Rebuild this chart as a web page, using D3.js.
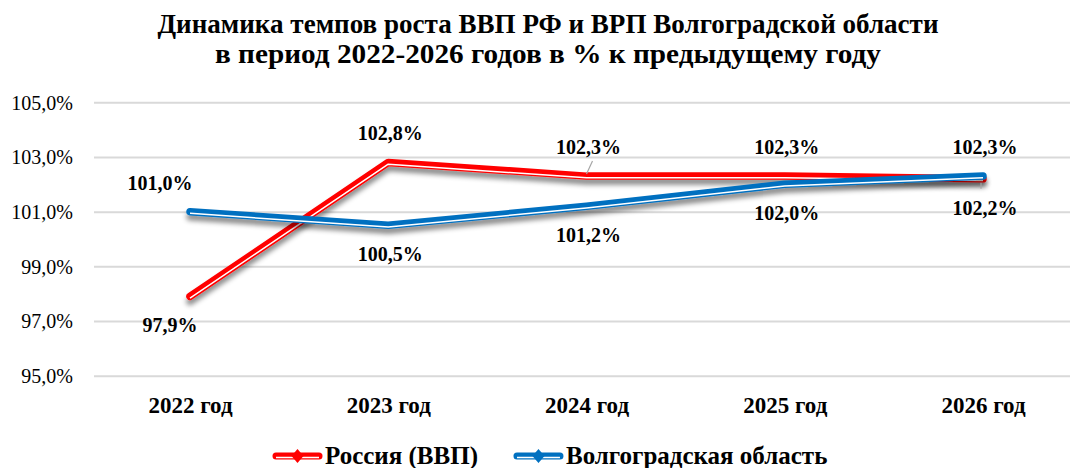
<!DOCTYPE html>
<html>
<head>
<meta charset="utf-8">
<script src="https://cdn.jsdelivr.net/npm/d3@7"></script>
<style>
  html, body { margin: 0; padding: 0; background: #fff; }
  svg { display: block; }
</style>
</head>
<body>
<svg id="chart" width="1070" height="468"></svg>
<script>
const categories = ["2022 год", "2023 год", "2024 год", "2025 год", "2026 год"];
const russia = [97.9, 102.8, 102.3, 102.3, 102.2];
const volgograd = [101.0, 100.5, 101.2, 102.0, 102.3];
const yTicks = [95, 97, 99, 101, 103, 105];
const seriesNames = ["Россия (ВВП)", "Волгоградская область"];
const titleLines = ["Динамика темпов роста ВВП РФ и ВРП Волгоградской области",
                    "в период 2022-2026 годов в % к предыдущему году"];
const leaderCats = ["2024 год", "2026 год"];

const series = [
  {name: seriesNames[0], values: russia, color: "#FF0000"},
  {name: seriesNames[1], values: volgograd, color: "#0070C0"}
];

const W = 1070, H = 468;
const svg = d3.select("#chart");
const FONT = '"Liberation Serif", "Times New Roman", serif';
const fmt = v => d3.format(".1f")(v).replace(".", ",") + "%";
const styleText = (sel, size, bold) => sel
  .style("font-family", FONT).style("font-size", size + "px")
  .style("font-weight", bold ? "bold" : "normal").style("fill", "#000");

// defs: shadow
const defs = svg.append("defs");
const f = defs.append("filter").attr("id", "shadow")
  .attr("x", "-10%").attr("y", "-20%").attr("width", "120%").attr("height", "160%");
f.append("feDropShadow").attr("dx", 0).attr("dy", 5).attr("stdDeviation", 2.5)
  .attr("flood-color", "#000").attr("flood-opacity", 0.45);

// title
const titleWidths = [781, 666];
const titleY = [33, 63];
titleLines.forEach((t, i) => {
  const tx = svg.append("text").attr("x", 548).attr("y", titleY[i]).text(t)
    .attr("text-anchor", "middle");
  styleText(tx, 27, true);
  tx.attr("textLength", titleWidths[i]).attr("lengthAdjust", "spacingAndGlyphs");
});

// scales
const plotLeft = 94, plotRight = W;
const x = d3.scalePoint().domain(categories).range([190, 983]);
const y = d3.scaleLinear().domain([95, 105]).range([375.7, 102.3]);

// y axis with gridlines
const yAxis = svg.append("g").attr("transform", `translate(${plotLeft},0)`)
  .call(d3.axisLeft(y).tickValues(yTicks).tickFormat(fmt)
    .tickSize(-(plotRight - plotLeft)).tickPadding(21));
yAxis.select(".domain").remove();
yAxis.selectAll(".tick line").attr("stroke", "#d9d9d9").attr("stroke-width", 2);
styleText(yAxis.selectAll(".tick text"), 20, false).attr("dy", "0.34em");

// x axis
const xAxis = svg.append("g").attr("transform", `translate(0,${y(95)})`)
  .call(d3.axisBottom(x).tickSize(0).tickPadding(21));
xAxis.select(".domain").remove();
styleText(xAxis.selectAll(".tick text"), 23, true);

// lines
const line = d3.line().x((d, i) => x(categories[i])).y(d => y(d));
series.forEach(s => {
  const g = svg.append("g").attr("filter", "url(#shadow)");
  g.append("path").attr("d", line(s.values)).attr("fill", "none")
    .attr("stroke", s.color).attr("stroke-width", 7.5)
    .attr("stroke-linecap", "round").attr("stroke-linejoin", "round");
  g.append("path").attr("d", line(s.values)).attr("fill", "none")
    .attr("transform", "translate(0,1.7)")
    .attr("stroke", "#fff").attr("stroke-width", 1.5)
    .attr("stroke-linejoin", "round");
});

// data labels: higher series above, lower below
categories.forEach((c, i) => {
  series.forEach((s, si) => {
    const other = series[1 - si].values[i];
    const v = s.values[i];
    const above = v > other;
    const px = x(c), py = y(v);
    const dx = i === 0 ? (above ? -30 : -20) : 2;
    const by = above ? py - 22 : py + 36;
    if (si === 0 && leaderCats.includes(c)) {
      const l = above ? [[px, py - 2], [px + 6, by + 7]] : [[px - 2, py + 4], [px - 2, by - 26]];
      svg.append("line").attr("x1", l[0][0]).attr("y1", l[0][1])
        .attr("x2", l[1][0]).attr("y2", l[1][1])
        .attr("stroke", "#a6a6a6").attr("stroke-width", 1.2);
    }
    const t = svg.append("text").attr("x", px + dx).attr("y", by)
      .attr("text-anchor", "middle").text(fmt(v));
    styleText(t, 20, true);
  });
});

// legend (items laid out in sequence)
let lx = 273;
const ly = 456;
series.forEach((s, i) => {
  svg.append("line").attr("x1", lx + 3).attr("x2", lx + 46)
    .attr("y1", ly).attr("y2", ly).attr("stroke", s.color).attr("stroke-width", 7)
    .attr("stroke-linecap", "round");
  svg.append("line").attr("x1", lx + 3).attr("x2", lx + 46)
    .attr("y1", ly + 1.6).attr("y2", ly + 1.6).attr("stroke", "#fff").attr("stroke-width", 1.5);
  const cx = lx + 24.5;
  svg.append("path").attr("d", `M${cx},${ly - 7} L${cx + 6},${ly} L${cx},${ly + 7} L${cx - 6},${ly} Z`)
    .attr("fill", s.color);
  const t = svg.append("text").attr("x", lx + 52).attr("y", ly + 8).text(s.name);
  styleText(t, 25, true);
  lx = lx + 52 + t.node().getComputedTextLength() + 36;
});
</script>
</body>
</html>
